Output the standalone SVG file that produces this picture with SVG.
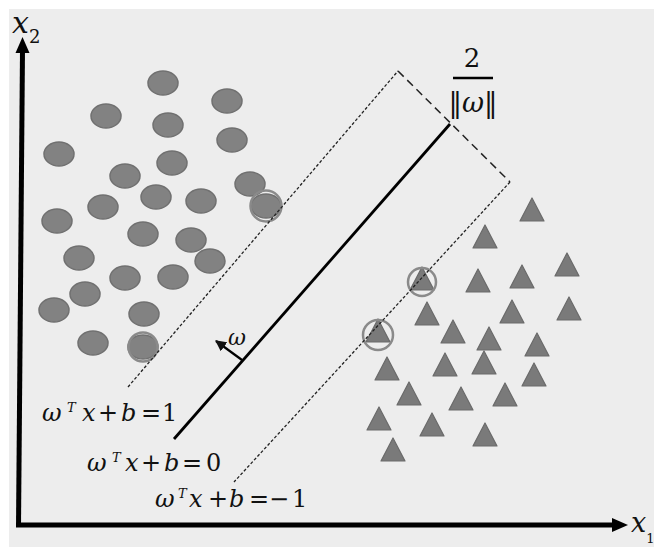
<svg xmlns="http://www.w3.org/2000/svg" xmlns:xlink="http://www.w3.org/1999/xlink" width="654" height="547" viewBox="0 0 654 547">
<style>
text{font-family:'DejaVu Serif',serif;fill:#111}
.i{font-style:italic}
.fine{stroke:#222;stroke-width:1.3;stroke-dasharray:3 2;fill:none}
.coarse{stroke:#222;stroke-width:1.5;stroke-dasharray:8 5;fill:none}
.ring{fill:none;stroke:#8a8a8a;stroke-width:2.5}
.pt{fill:#828282;stroke:#707070;stroke-width:1.5}
.tr{fill:#7a7a7a;stroke:#6a6a6a;stroke-width:1.2;stroke-linejoin:round}
</style>
<defs>
<ellipse id="c" class="pt" cx="0" cy="0" rx="15" ry="12"/>
<polygon id="t" class="tr" points="0,0 12,23 -12,23"/>
<marker id="ah" viewBox="0 0 10 10" refX="9" refY="5" markerWidth="5" markerHeight="5" orient="auto" markerUnits="strokeWidth">
<path d="M0,0 L10,5 L0,10 z" fill="#111"/>
</marker>
</defs>
<rect x="9" y="9" width="645" height="538" fill="#ededed"/>
<g id="axes">
<line x1="22.5" y1="50" x2="18.5" y2="527" stroke="#000" stroke-width="5"/>
<polygon points="22.5,37 15.5,53 29.5,53" fill="#000"/>
<line x1="16" y1="525" x2="615" y2="525" stroke="#000" stroke-width="5"/>
<polygon points="628,525 612,518 612,532" fill="#000"/>
<text x="12" y="33"><tspan class="i" font-size="30">x</tspan><tspan font-size="18" dy="10">2</tspan></text>
<text x="631" y="532"><tspan class="i" font-size="27">x</tspan><tspan font-size="13" dy="11">1</tspan></text>
</g>
<g id="class-circles">
<use id="c1" xlink:href="#c" x="163" y="83"/>
<use id="c2" xlink:href="#c" x="227" y="101"/>
<use id="c3" xlink:href="#c" x="106" y="116"/>
<use id="c4" xlink:href="#c" x="168" y="125"/>
<use id="c5" xlink:href="#c" x="232" y="140"/>
<use id="c6" xlink:href="#c" x="59" y="154"/>
<use id="c7" xlink:href="#c" x="172" y="163"/>
<use id="c8" xlink:href="#c" x="125" y="176"/>
<use id="c9" xlink:href="#c" x="250" y="184"/>
<use id="c10" xlink:href="#c" x="266" y="206"/>
<use id="c11" xlink:href="#c" x="156" y="197"/>
<use id="c12" xlink:href="#c" x="103" y="207"/>
<use id="c13" xlink:href="#c" x="201" y="201"/>
<use id="c14" xlink:href="#c" x="57" y="221"/>
<use id="c15" xlink:href="#c" x="143" y="234"/>
<use id="c16" xlink:href="#c" x="191" y="240"/>
<use id="c17" xlink:href="#c" x="79" y="258"/>
<use id="c18" xlink:href="#c" x="210" y="261"/>
<use id="c19" xlink:href="#c" x="125" y="278"/>
<use id="c20" xlink:href="#c" x="173" y="277"/>
<use id="c21" xlink:href="#c" x="85" y="294"/>
<use id="c22" xlink:href="#c" x="54" y="310"/>
<use id="c23" xlink:href="#c" x="144" y="314"/>
<use id="c24" xlink:href="#c" x="93" y="343"/>
<use id="c25" xlink:href="#c" x="143" y="347"/>
<circle class="ring" cx="266" cy="206" r="15.5"/>
<circle class="ring" cx="143" cy="347" r="14.5"/>
</g>
<g id="class-triangles">
<use id="t1" xlink:href="#t" x="532" y="198"/>
<use id="t2" xlink:href="#t" x="485" y="225"/>
<use id="t3" xlink:href="#t" x="567" y="253"/>
<use id="t4" xlink:href="#t" x="422" y="267"/>
<use id="t5" xlink:href="#t" x="478" y="269"/>
<use id="t6" xlink:href="#t" x="522" y="265"/>
<use id="t7" xlink:href="#t" x="569" y="297"/>
<use id="t8" xlink:href="#t" x="427" y="302"/>
<use id="t9" xlink:href="#t" x="512" y="300"/>
<use id="t10" xlink:href="#t" x="378" y="319"/>
<use id="t11" xlink:href="#t" x="453" y="320"/>
<use id="t12" xlink:href="#t" x="489" y="327"/>
<use id="t13" xlink:href="#t" x="537" y="333"/>
<use id="t14" xlink:href="#t" x="387" y="357"/>
<use id="t15" xlink:href="#t" x="445" y="353"/>
<use id="t16" xlink:href="#t" x="484" y="351"/>
<use id="t17" xlink:href="#t" x="534" y="363"/>
<use id="t18" xlink:href="#t" x="409" y="382"/>
<use id="t19" xlink:href="#t" x="461" y="387"/>
<use id="t20" xlink:href="#t" x="505" y="383"/>
<use id="t21" xlink:href="#t" x="379" y="407"/>
<use id="t22" xlink:href="#t" x="432" y="413"/>
<use id="t23" xlink:href="#t" x="485" y="423"/>
<use id="t24" xlink:href="#t" x="393" y="438"/>
<circle class="ring" cx="422" cy="282" r="14"/>
<circle class="ring" cx="378" cy="335" r="15"/>
</g>
<g id="connectors">
<line class="fine" x1="128" y1="387" x2="398" y2="71"/>
<line class="coarse" x1="398" y1="71" x2="510" y2="182"/>
<line class="fine" x1="510" y1="182" x2="234" y2="482"/>
<line x1="450" y1="124" x2="174" y2="439" stroke="#000" stroke-width="2.8"/>
<line x1="242" y1="360" x2="216" y2="341" stroke="#000" stroke-width="2.2" marker-end="url(#ah)"/>
<line x1="453" y1="78" x2="493" y2="78" stroke="#000" stroke-width="2.5"/>
</g>
<g id="labels">
<text x="472" y="67" font-size="26" text-anchor="middle">2</text>
<text x="473" y="112" font-size="27" text-anchor="middle">‖<tspan class="i">ω</tspan>‖</text>
<text class="i" x="228" y="345" font-size="22">ω</text>
<text font-size="24"><tspan class="i" x="42" y="421">ω</tspan><tspan class="i" x="67" y="412" font-size="13">T</tspan><tspan class="i" x="82" y="421">x</tspan><tspan x="98">+</tspan><tspan class="i" x="121">b</tspan><tspan x="141">=</tspan><tspan x="162">1</tspan></text>
<text font-size="24"><tspan class="i" x="87" y="471">ω</tspan><tspan class="i" x="112" y="462" font-size="13">T</tspan><tspan class="i" x="125" y="471">x</tspan><tspan x="141">+</tspan><tspan class="i" x="164">b</tspan><tspan x="182">=</tspan><tspan x="206">0</tspan></text>
<text font-size="24"><tspan class="i" x="155" y="507">ω</tspan><tspan class="i" x="178" y="498" font-size="13">T</tspan><tspan class="i" x="189" y="507">x</tspan><tspan x="208">+</tspan><tspan class="i" x="229">b</tspan><tspan x="249">=</tspan><tspan x="269">−</tspan><tspan x="292">1</tspan></text>
</g>
</svg>
